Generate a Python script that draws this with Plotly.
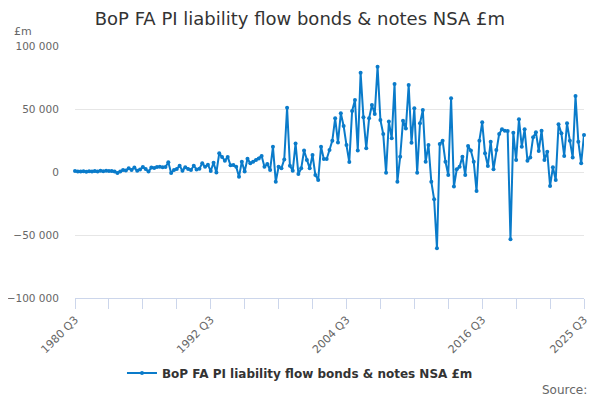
import plotly.graph_objects as go

# Quarterly flows, 1980 Q3 .. 2025 Q3 (£m)
values = [
    800, 400, 300, 600, 200, 500, 300, 700, 400, 900,
    600, 1000, 700, 800, 400, -800, 300, 1500, 1200, 3000,
    1500, 3500, 1000, 2000, 4000, 2400, 300, 3500, 3200, 4000,
    4200, 3800, 4000, 7700, -800, 1600, 2400, 5000, 1000, 3700,
    2400, 1600, 5000, 2000, 2600, 6900, 4200, 5800, 800, 7400,
    -300, 14800, 12000, 9000, 12000, 5300, 5600, 4200, -3700, 8200,
    300, 10600, 6900, 8200, 9500, 10800, 12700, 4200, 6300, 1600,
    20000, -7700, 4200, 2900, 10000, 51000, 5000, 1000, 22700, -1600,
    2900, 17000, 9500, 2900, 13500, -2400, -6300, 20000, 10300, 10300,
    17500, 24900, 42600, 23500, 46600, 36500, 21400, 7900, 48400, 57100,
    17000, 78800, 43400, 18800, 42600, 53200, 46000, 83600, 41300, 30200,
    -500, 40000, 26700, 69800, -7700, 12200, 40700, 34600, 69000, 23300,
    50500, -500, 38600, 49200, 8200, 21400, -7700, -21700, -60600, 22200,
    24900, 8200, -2400, 58500, -11600, 2100, 4200, 12200, -2400, 20600,
    17000, 8200, -15100, 24900, 39400, 14800, 4800, 24100, 2100, 17500,
    30200, 33900, 32800, 32500, -53400, 31200, 9500, 41800, 20100, 33900,
    9000, 11600, 27500, 31500, 16700, 32800, 9500, 16100, -11100, 3700,
    -6300, 37800, 30700, 12700, 38600, 24900, 11600, 60300, 24100, 6900,
    29400,
]

quarters = []
year, q = 1980, 3
for _ in values:
    quarters.append(f"{year} Q{q}")
    q += 1
    if q > 4:
        q, year = 1, year + 1

idx = list(range(len(values)))
label_idx = [0, 48, 96, 144, len(values) - 1]

series_name = "BoP FA PI liability flow bonds & notes NSA £m"
blue = "#0a7bca"
grey = "#666666"
font = "DejaVu Sans"

fig = go.Figure()
fig.add_trace(go.Scatter(
    x=idx, y=values, mode="lines+markers",
    name=series_name,
    line=dict(color=blue, width=2),
    marker=dict(color=blue, size=4),
    text=quarters,
    hovertemplate="%{text}: %{y:,}<extra></extra>",
    cliponaxis=False,
))

# the page body keeps its 8px default margin, so the figure is 8px smaller
fig.update_layout(
    width=592, height=392,
    margin=dict(l=67, r=16, t=38, b=102, autoexpand=False),
    plot_bgcolor="white", paper_bgcolor="white",
    separators=". ",
    font=dict(family=font, color=grey, size=11),
    title=dict(text=series_name, x=0.493, xanchor="center", y=0.974, yanchor="middle",
               font=dict(family=font, size=18, color="#333333")),
    showlegend=True,
    legend=dict(orientation="h", x=0.442, xanchor="center",
                y=-0.298, yanchor="middle",
                font=dict(family=font, size=12, color="#333333", weight="bold")),
)

fig.update_xaxes(
    range=[0, len(values) - 1], automargin=False,
    tickmode="array", tickvals=label_idx, ticktext=[quarters[i] for i in label_idx],
    tickangle=-45, ticks="outside", ticklen=10, tickcolor="#ccd6eb",
    showline=True, linecolor="#ccd6eb", linewidth=1,
    showgrid=False, zeroline=False,
    minor=dict(tickmode="linear", tick0=0, dtick=12, ticks="outside",
               ticklen=10, tickcolor="#ccd6eb", showgrid=False),
    tickfont=dict(size=11, color=grey),
)

# invisible ticks give the gap between the labels and the plot
fig.update_yaxes(
    range=[-100000, 100000], dtick=50000, tickformat=",d", automargin=False,
    showgrid=True, gridcolor="#e6e6e6", zeroline=False,
    showline=False, ticks="outside", ticklen=13, tickcolor="rgba(0,0,0,0)",
    tickfont=dict(size=10.5, color=grey),
)

fig.add_annotation(text="£m", xref="paper", yref="paper", x=-0.124, y=1.056,
                   xanchor="left", yanchor="middle", showarrow=False,
                   font=dict(size=11, color=grey))
fig.add_annotation(text="Source:", xref="paper", yref="paper", x=1.01, y=-0.365,
                   xanchor="right", yanchor="middle", showarrow=False,
                   font=dict(size=12, color=grey))

fig.write_html("out.html", config={"displayModeBar": False})
